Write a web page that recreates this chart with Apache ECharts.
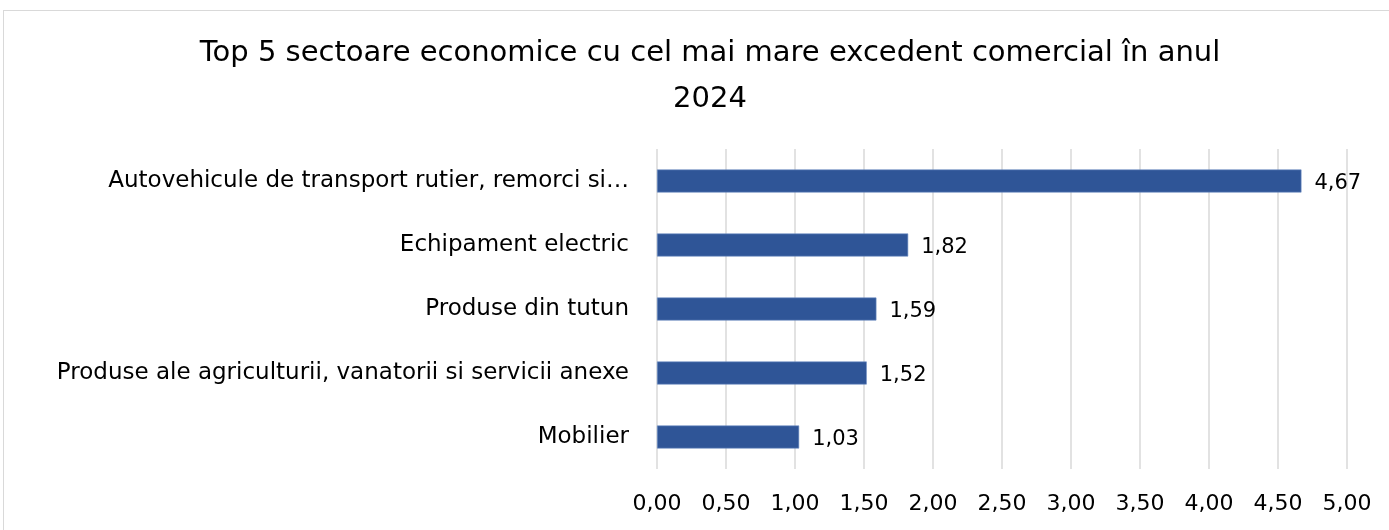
<!DOCTYPE html>
<html>
<head>
<meta charset="utf-8">
<script src="https://cdn.jsdelivr.net/npm/echarts@6/dist/echarts.min.js"></script>
<style>
    html, body { margin: 0; padding: 0; background: #fff; }
    #chart {
        position: absolute;
        left: 3px;
        top: 10px;
        width: 1400px;
        height: 540px;
        border: 1px solid #d9d9d9;
        box-sizing: border-box;
    }
</style>
</head>
<body>
<div id="chart"></div>
<script>
// categories top -> bottom as in the picture
const categories = [
    'Autovehicule de transport rutier, remorci si…',
    'Echipament electric',
    'Produse din tutun',
    'Produse ale agriculturii, vanatorii si servicii anexe',
    'Mobilier'
];
const values = [4.67, 1.82, 1.59, 1.52, 1.03];
const titleText = 'Top 5 sectoare economice cu cel mai mare excedent comercial în anul\n2024';

const FONT = 'DejaVu Sans';
const comma = v => v.toFixed(2).replace('.', ',');

const chart = echarts.init(document.getElementById('chart'));
chart.setOption({
    animation: false,
    textStyle: { fontFamily: FONT },
    title: {
        text: titleText,
        left: 701,
        top: 14,
        textAlign: 'center',
        textStyle: {
            fontFamily: FONT,
            fontSize: 29,
            fontWeight: 'normal',
            color: '#000',
            lineHeight: 46
        }
    },
    grid: {
        left: 653,
        top: 138,
        width: 690,
        height: 320
    },
    xAxis: {
        type: 'value',
        min: 0,
        max: 5,
        interval: 0.5,
        axisLine: { show: false },
        axisTick: { show: false },
        splitLine: { show: true, lineStyle: { color: '#d9d9d9', width: 1.5 } },
        axisLabel: {
            margin: 24,
            fontSize: 22,
            color: '#000',
            formatter: comma
        }
    },
    yAxis: {
        type: 'category',
        inverse: true,
        data: categories,
        axisLine: { show: false },
        axisTick: { show: false },
        axisLabel: {
            margin: 28,
            fontSize: 23,
            color: '#000'
        }
    },
    series: [{
        type: 'bar',
        data: values,
        barWidth: 23,
        itemStyle: { color: '#2F5597', borderColor: '#6f8fc4', borderWidth: 0.6 },
        label: {
            show: true,
            position: 'right',
            distance: 13,
            fontSize: 21,
            color: '#000',
            offset: [0, 3],
            formatter: p => comma(p.value)
        }
    }]
});
</script>
</body>
</html>
